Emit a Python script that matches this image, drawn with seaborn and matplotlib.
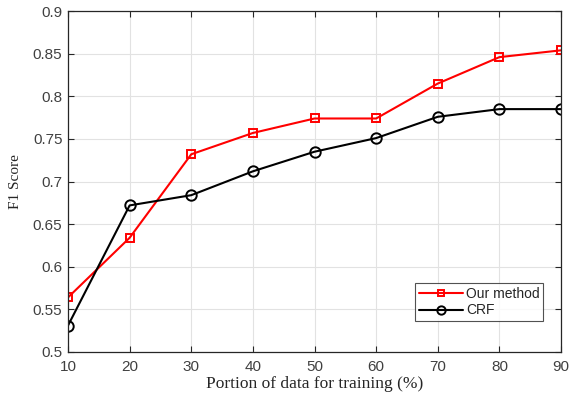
import matplotlib
matplotlib.use("Agg")
import matplotlib.pyplot as plt
import seaborn as sns
import pandas as pd

portion = [10, 20, 30, 40, 50, 60, 70, 80, 90]
our_method = [0.564, 0.634, 0.732, 0.757, 0.774, 0.774, 0.815, 0.846, 0.854]
crf = [0.531, 0.672, 0.684, 0.712, 0.735, 0.751, 0.776, 0.785, 0.785]
xticks = [10, 20, 30, 40, 50, 60, 70, 80, 90]
yticks = [0.5, 0.55, 0.6, 0.65, 0.7, 0.75, 0.8, 0.85, 0.9]
ytick_labels = ["0.5", "0.55", "0.6", "0.65", "0.7", "0.75", "0.8", "0.85", "0.9"]

sns.set_theme(style="white")
plt.rcParams["font.family"] = ["Liberation Sans", "DejaVu Sans"]

fig = plt.figure(figsize=(5.69, 3.97), dpi=100)
ax = fig.add_axes([0.1195, 0.1134, 0.8665, 0.8586])

df_our = pd.DataFrame({"x": portion, "y": our_method})
df_crf = pd.DataFrame({"x": portion, "y": crf})

sns.lineplot(data=df_our, x="x", y="y", ax=ax, color="#ff0000", lw=1.5,
             marker="s", markersize=6, markerfacecolor="none",
             markeredgecolor="#ff0000", markeredgewidth=1.4, label="Our method")
sns.lineplot(data=df_crf, x="x", y="y", ax=ax, color="#000000", lw=1.5,
             marker="o", markersize=7.5, markerfacecolor="none",
             markeredgecolor="#000000", markeredgewidth=1.4, label="CRF")

ax.set_xlim(10, 90)
ax.set_ylim(0.5, 0.9)
ax.set_xticks(xticks)
ax.set_yticks(yticks)
ax.set_yticklabels(ytick_labels)
ax.grid(True, color="#e2e2e2", lw=0.8)
ax.tick_params(direction="in", length=4, width=0.8, colors="#262626",
               labelcolor="#404040", labelsize=11, top=True, right=True,
               bottom=True, left=True)
ax.tick_params(axis="x", pad=6)
ax.tick_params(axis="y", pad=4)
for s in ax.spines.values():
    s.set_color("#262626")
    s.set_linewidth(0.9)

ax.set_xlabel("Portion of data for training (%)", family=["Liberation Serif"],
              fontsize=12.5, color="#262626", labelpad=1)
ax.set_ylabel("F1 Score", family=["Liberation Serif"], fontsize=11,
              color="#262626", labelpad=8)

leg = ax.legend(loc="lower right", bbox_to_anchor=(0.9635, 0.091),
                borderaxespad=0, fontsize=10, frameon=True, fancybox=False,
                handlelength=3.2, handletextpad=0.2, borderpad=0.25,
                labelspacing=0.2, markerscale=0.8)
leg.get_frame().set_edgecolor("#262626")
leg.get_frame().set_linewidth(0.8)

fig.savefig("out.png", dpi=100)
